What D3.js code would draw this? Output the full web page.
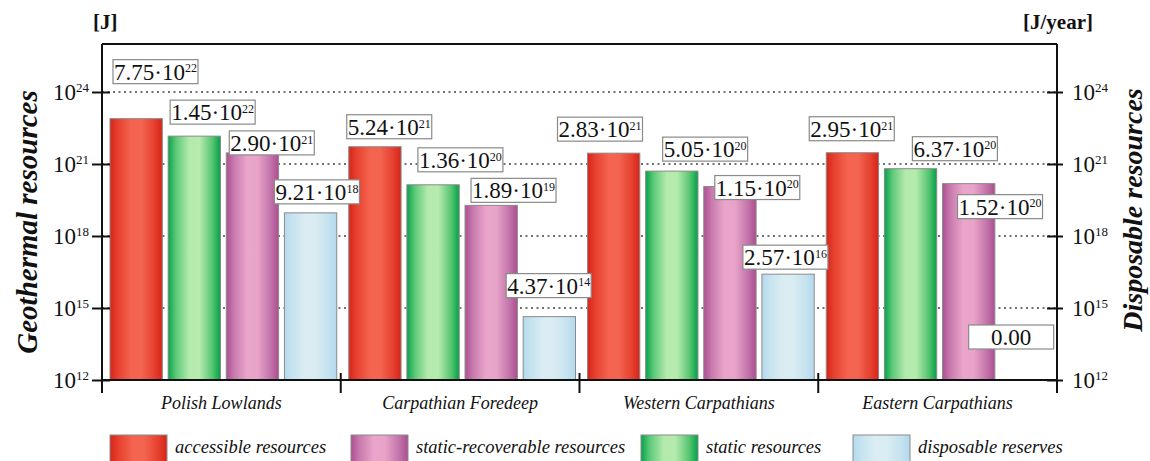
<!DOCTYPE html>
<html>
<head>
<meta charset="utf-8">
<script src="https://cdn.jsdelivr.net/npm/d3@7"></script>
<style>
body { margin: 0; background: #fff; }
svg text { font-family: "Liberation Serif", "DejaVu Serif", serif; fill: #111; }
</style>
</head>
<body>
<div id="chart"></div>
<script>
// data
var regions = ["Polish Lowlands", "Carpathian Foredeep", "Western Carpathians", "Eastern Carpathians"];
var seriesNames = ["accessible resources", "static resources", "static-recoverable resources", "disposable reserves"];
var accessible = [7.75e22, 5.24e21, 2.83e21, 2.95e21];
var staticRes = [1.45e22, 1.36e20, 5.05e20, 6.37e20];
var staticRecoverable = [2.90e21, 1.89e19, 1.15e20, 1.52e20];
var disposable = [9.21e18, 4.37e14, 2.57e16, 0];
var yTicks = [1e12, 1e15, 1e18, 1e21, 1e24];
var legendOrder = [0, 2, 1, 3];

// where each value box sits relative to its bar (left, top), px
var labelNudge = [
    [[3, -59], [2, -36], [3, -22], [-10, -33]],
    [[-2, -32], [11, -37], [6, -27], [-17, -43]],
    [[-30, -36], [17, -34], [11, -11], [-19, -29]],
    [[-17, -36], [28, -32], [15, 11], [-32, -55]]
];
// legend swatch offsets, px
var legendX = [0, 241, 531, 743];

var svgWidth = 1150;
var svgHeight = 461;
var margin = {top: 44, right: 93, bottom: 81, left: 102};
var chartWidth = svgWidth - margin.left - margin.right;
var chartHeight = svgHeight - margin.top - margin.bottom;

var series = [accessible, staticRes, staticRecoverable, disposable];
var gradStops = [
    ["#d8241a", "#e6412f", "#f4634e", "#f36550", "#e5402e", "#d6241a"],
    ["#06a24c", "#5cc977", "#b4eaad", "#b6ebae", "#54c46f", "#03a049"],
    ["#ae4f92", "#c87aae", "#eaa6ca", "#e8a3c8", "#c273aa", "#ad4d90"],
    ["#b4daee", "#c6e3ef", "#dbedf2", "#d9ecf2", "#c4e2ef", "#b2d9ee"]
];
var stopAt = [0, 0.15, 0.4, 0.6, 0.85, 1];

var svg = d3.select("#chart")
    .append("svg")
    .attr("width", svgWidth)
    .attr("height", svgHeight);

var defs = svg.append("defs");
gradStops.forEach(function(cols, i) {
    var g = defs.append("linearGradient")
        .attr("id", "grad" + i)
        .attr("x1", "0%").attr("x2", "100%")
        .attr("y1", "0%").attr("y2", "0%");
    cols.forEach(function(c, j) {
        g.append("stop").attr("offset", stopAt[j]).attr("stop-color", c);
    });
});

var chartGroup = svg.append("g")
    .attr("transform", `translate(${margin.left},${margin.top})`);

var x0 = d3.scaleBand()
    .domain(regions)
    .range([0, chartWidth]);

var x1 = d3.scaleBand()
    .domain(d3.range(series.length))
    .range([8, x0.bandwidth() - 4])
    .paddingInner(0.1);

var yScale = d3.scaleLog()
    .domain([1e12, 1e26])
    .range([chartHeight, 0]);

// dotted grid
chartGroup.append("g").selectAll("line")
    .data(yTicks.slice(1))
    .enter()
    .append("line")
    .attr("x1", 0)
    .attr("x2", chartWidth)
    .attr("y1", d => yScale(d))
    .attr("y2", d => yScale(d))
    .attr("stroke", "#444")
    .attr("stroke-width", 1.3)
    .attr("stroke-dasharray", "2,3.5");

// bars
var barData = [];
regions.forEach(function(r, gi) {
    series.forEach(function(s, si) {
        barData.push({region: r, gi: gi, si: si, value: s[gi]});
    });
});

chartGroup.append("g").selectAll("rect")
    .data(barData.filter(d => d.value > 0))
    .enter()
    .append("rect")
    .attr("x", d => x0(d.region) + x1(d.si))
    .attr("y", d => yScale(d.value))
    .attr("width", x1.bandwidth())
    .attr("height", d => chartHeight - yScale(d.value))
    .attr("fill", d => "url(#grad" + d.si + ")")
    .attr("stroke", "#8a8a8a")
    .attr("stroke-width", 1);

// frame
var frame = chartGroup.append("g")
    .attr("stroke", "#111")
    .attr("stroke-width", 2)
    .attr("fill", "none");
frame.append("line").attr("x1", 0).attr("x2", chartWidth).attr("y1", 0).attr("y2", 0);
frame.append("line").attr("x1", 0).attr("x2", chartWidth).attr("y1", chartHeight).attr("y2", chartHeight);
frame.append("line").attr("x1", 0).attr("x2", 0).attr("y1", 0).attr("y2", chartHeight + 13);
frame.append("line").attr("x1", chartWidth).attr("x2", chartWidth).attr("y1", 0).attr("y2", chartHeight + 13);

// separators on the category axis
frame.selectAll(".sep")
    .data(regions.slice(1))
    .enter()
    .append("line")
    .attr("x1", d => x0(d))
    .attr("x2", d => x0(d))
    .attr("y1", chartHeight - 7)
    .attr("y2", chartHeight + 13);

// y axes: ticks crossing the line
var leftAxis = d3.axisLeft(yScale).tickValues(yTicks).tickSize(10).tickFormat("");
var rightAxis = d3.axisRight(yScale).tickValues(yTicks).tickSize(6).tickFormat("");

var gl = chartGroup.append("g").call(leftAxis);
gl.select(".domain").remove();
gl.selectAll("line").attr("x1", 8).attr("stroke", "#111").attr("stroke-width", 2);

var gr = chartGroup.append("g")
    .attr("transform", `translate(${chartWidth},0)`)
    .call(rightAxis);
gr.select(".domain").remove();
gr.selectAll("line").attr("x1", -10).attr("stroke", "#111").attr("stroke-width", 2);

function powerText(sel, exp) {
    sel.append("tspan").text("10");
    sel.append("tspan").attr("dy", "-0.6em").attr("font-size", "13px").text(exp);
}

chartGroup.append("g").selectAll("text")
    .data(yTicks)
    .enter()
    .append("text")
    .attr("x", -13)
    .attr("y", d => yScale(d))
    .attr("dy", "0.35em")
    .attr("text-anchor", "end")
    .attr("font-size", "23px")
    .each(function(d) { powerText(d3.select(this), Math.round(Math.log10(d))); });

chartGroup.append("g").selectAll("text")
    .data(yTicks)
    .enter()
    .append("text")
    .attr("x", chartWidth + 15)
    .attr("y", d => yScale(d))
    .attr("dy", "0.35em")
    .attr("text-anchor", "start")
    .attr("font-size", "23px")
    .each(function(d) { powerText(d3.select(this), Math.round(Math.log10(d))); });

// category labels
chartGroup.append("g").selectAll("text")
    .data(regions)
    .enter()
    .append("text")
    .attr("x", d => x0(d) + x0.bandwidth() / 2)
    .attr("y", chartHeight + 29)
    .attr("text-anchor", "middle")
    .attr("font-size", "18px")
    .attr("font-style", "italic")
    .text(d => d);

// value boxes
var boxW = 85, boxH = 24;
var labels = chartGroup.append("g").selectAll("g")
    .data(barData)
    .enter()
    .append("g")
    .attr("transform", function(d) {
        var nudge = labelNudge[d.gi][d.si];
        var top = d.value > 0 ? yScale(d.value) : chartHeight;
        return `translate(${x0(d.region) + x1(d.si) + nudge[0]},${top + nudge[1]})`;
    });

labels.append("rect")
    .attr("width", boxW)
    .attr("height", boxH)
    .attr("fill", "#fff")
    .attr("stroke", "#8a8a8a")
    .attr("stroke-width", 1.2);

labels.append("text")
    .attr("x", boxW / 2)
    .attr("y", 20)
    .attr("text-anchor", "middle")
    .attr("font-size", "23px")
    .each(function(d) {
        var t = d3.select(this);
        if (d.value === 0) {
            t.text("0.00");
            return;
        }
        var parts = d.value.toExponential(2).split("e");
        t.append("tspan").text(parts[0] + "\u00b710");
        t.append("tspan").attr("dy", "-0.6em").attr("font-size", "12px").text(+parts[1]);
    });

// axis titles and units
svg.append("text")
    .attr("transform", "translate(37,222) rotate(-90)")
    .attr("text-anchor", "middle")
    .attr("font-size", "29px")
    .attr("font-weight", "bold")
    .attr("font-style", "italic")
    .text("Geothermal resources");

svg.append("text")
    .attr("transform", "translate(1142,210) rotate(-90)")
    .attr("text-anchor", "middle")
    .attr("font-size", "28px")
    .attr("font-weight", "bold")
    .attr("font-style", "italic")
    .text("Disposable resources");

svg.append("text")
    .attr("x", 93)
    .attr("y", 29)
    .attr("font-size", "21px")
    .attr("font-weight", "bold")
    .text("[J]");

svg.append("text")
    .attr("x", 1093)
    .attr("y", 29)
    .attr("text-anchor", "end")
    .attr("font-size", "21px")
    .attr("font-weight", "bold")
    .text("[J/year]");

// legend
var legend = svg.append("g").attr("transform", "translate(110,435)");
legendOrder.forEach(function(si, k) {
    var item = legend.append("g").attr("transform", `translate(${legendX[k]},0)`);
    item.append("rect")
        .attr("width", 57)
        .attr("height", 32)
        .attr("fill", "url(#grad" + si + ")")
        .attr("stroke", "#8a8a8a")
        .attr("stroke-width", 1);
    item.append("text")
        .attr("x", 65)
        .attr("y", 18)
        .attr("font-size", "18.5px")
        .attr("font-style", "italic")
        .text(seriesNames[si]);
});
</script>
</body>
</html>
